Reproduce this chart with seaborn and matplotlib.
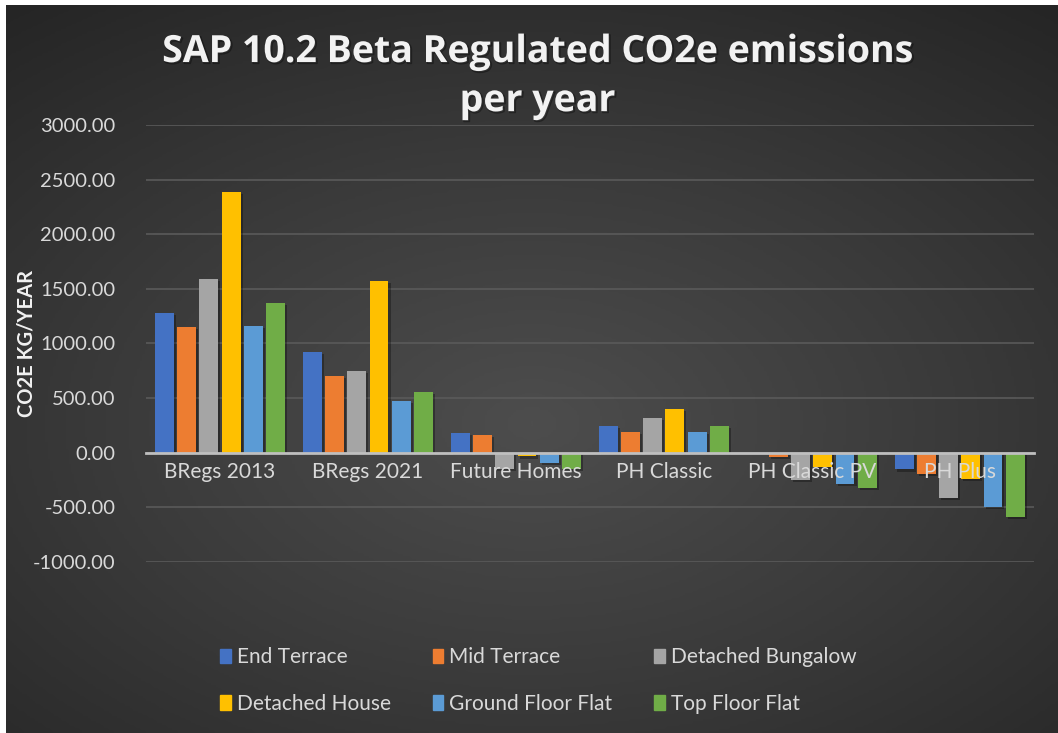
import numpy as np
import pandas as pd
import matplotlib
matplotlib.use("Agg")
import matplotlib.pyplot as plt
import matplotlib.patheffects as pe
import seaborn as sns

# --- data ---
categories = ["BRegs 2013", "BRegs 2021", "Future Homes", "PH Classic", "PH Classic PV", "PH Plus"]
end_terrace = [1276, 922, 183, 241, 0, -153]
mid_terrace = [1151, 705, 161, 192, -37, -195]
detached_bungalow = [1588, 751, -147, 318, -247, -412]
detached_house = [2387, 1572, -34, 400, -128, -244]
ground_floor_flat = [1163, 476, -92, 192, -287, -495]
top_floor_flat = [1368, 556, -150, 241, -326, -586]

series_names = ["End Terrace", "Mid Terrace", "Detached Bungalow",
                "Detached House", "Ground Floor Flat", "Top Floor Flat"]
series_values = [end_terrace, mid_terrace, detached_bungalow,
                 detached_house, ground_floor_flat, top_floor_flat]
colors = ["#4472C4", "#ED7D31", "#A5A5A5", "#FFC000", "#5B9BD5", "#70AD47"]
y_ticks = [-1000, -500, 0, 500, 1000, 1500, 2000, 2500, 3000]

rows = []
for name, vals in zip(series_names, series_values):
    for cat, v in zip(categories, vals):
        rows.append({"category": cat, "type": name, "value": v})
df = pd.DataFrame(rows)

sns.set_style("dark")
plt.rcParams["font.family"] = ["Lato", "DejaVu Sans"]

fig = plt.figure(figsize=(10.58, 7.33), dpi=100)

# radial grey gradient behind everything (thin white strip top/left like the screenshot)
bg = fig.add_axes([6 / 1058, 0, 1 - 6 / 1058, 1 - 5 / 733], zorder=-10)
yy, xx = np.mgrid[-1:1:300j, -1:1:400j]
r = np.sqrt((xx * 0.9) ** 2 + ((yy + 0.15) * 1.0) ** 2)
bg.imshow(r, cmap=matplotlib.colors.LinearSegmentedColormap.from_list(
    "bg", ["#4d4d4d", "#3a3a3a", "#252525"]), aspect="auto",
    extent=[0, 1, 0, 1], origin="lower")
bg.set_xlim(0, 1)
bg.set_ylim(0, 1)
bg.set_axis_off()

ax = fig.add_axes([0.138, 0.2333, 0.839, 0.5962])
ax.set_facecolor("none")

sns.barplot(data=df, x="category", y="value", hue="type", palette=colors,
            width=0.9, gap=0.15, saturation=1, linewidth=0, edgecolor="none",
            ax=ax, zorder=3)

# soft drop shadow on the bars
for bar in ax.patches:
    bar.set_path_effects([pe.SimplePatchShadow(offset=(1.5, -1.5), shadow_rgbFace="black", alpha=0.3),
                          pe.Normal()])

ax.set_ylim(-1000, 3000)
ax.set_yticks(y_ticks)
ax.set_yticklabels([f"{v:.2f}" for v in y_ticks], color="#d9d9d9", fontsize=14.5)
ax.grid(axis="y", color="#5a5a5a", linewidth=1.2)
ax.grid(axis="x", visible=False)
ax.tick_params(axis="y", length=0, pad=22)
ax.tick_params(axis="x", length=0, pad=7, labelsize=15, labelcolor="#d9d9d9")
# category labels sit on top of the negative bars, gridlines stay behind
ax.xaxis.set_zorder(5)
ax.yaxis.set_zorder(0.5)

for s in ["top", "right", "left"]:
    ax.spines[s].set_visible(False)
ax.spines["bottom"].set_position(("data", 0))
ax.spines["bottom"].set_color("#bfbfbf")
ax.spines["bottom"].set_linewidth(2)
ax.spines["bottom"].set_zorder(4)

ax.set_xlabel("")
ax.set_ylabel("CO2E KG/YEAR", color="#f2f2f2", fontsize=14.5, fontweight="bold")
ax.yaxis.set_label_coords(-0.123, 0.5)

title_fx = [pe.SimpleLineShadow(offset=(1, -1), shadow_color="black", alpha=0.35, linewidth=1),
            pe.Normal()]
t1 = fig.text(0.508, 0.929, "SAP 10.2 Beta Regulated CO2e emissions", ha="center", va="center",
              color="#f2f2f2", fontsize=27, fontweight="bold", family=["Open Sans", "DejaVu Sans"])
t2 = fig.text(0.508, 0.862, "per year", ha="center", va="center",
              color="#f2f2f2", fontsize=27, fontweight="bold", family=["Open Sans", "DejaVu Sans"])
t1.set_path_effects(title_fx)
t2.set_path_effects(title_fx)

# legend filled row by row like the original
ax.legend_.remove()
handles = [plt.Rectangle((0, 0), 1, 1, color=c) for c in colors]
order = [0, 3, 1, 4, 2, 5]
fig.legend([handles[i] for i in order], [series_names[i] for i in order],
           loc="center", bbox_to_anchor=(0.509, 0.0716), ncol=3,
           frameon=False, fontsize=15, labelcolor="#d9d9d9", handlelength=0.5,
           handleheight=0.7, handletextpad=0.3, columnspacing=2.0, labelspacing=1.25)

fig.savefig("out.png", dpi=100, facecolor="white")
